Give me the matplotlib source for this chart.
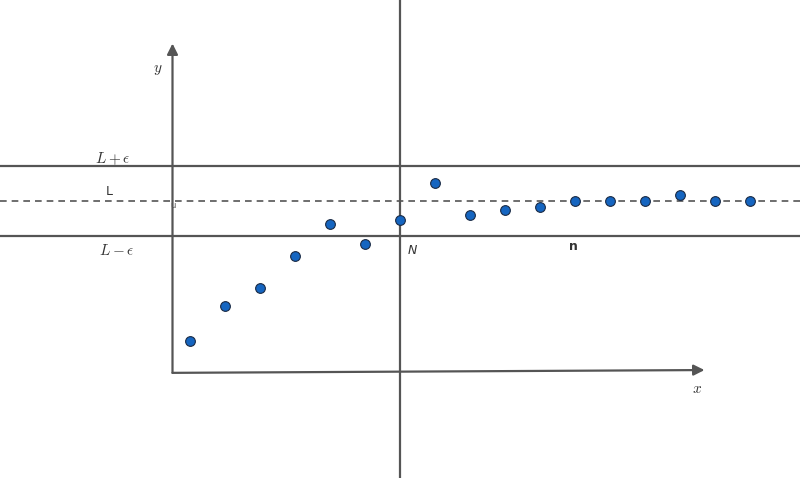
import matplotlib
matplotlib.use("Agg")
import matplotlib.pyplot as plt

plt.rcParams['mathtext.fontset'] = 'cm'

# sequence terms a_n, measured relative to the limit L (units of epsilon)
n_vals = list(range(1, 18))
a_vals = [-4.0, -3.0, -2.49, -1.57, -0.66, -1.23, -0.54, 0.51, -0.40,
          -0.26, -0.17, 0.0, 0.0, 0.0, 0.17, 0.0, 0.0]
L = 0.0
eps = 1.0
N = 7
n_mark = 12

# axis frame (same units)
x0, y0 = 0.5, -4.91
x_end, y_end = 15.7, 4.5

line_col = '#555555'

fig = plt.figure(figsize=(8, 4.78), dpi=100)
ax = fig.add_axes([0, 0, 1, 1])
ax.set_xlim(-155 / 35, (800 - 155) / 35)
ax.set_ylim((201 - 478) / 35, 201 / 35)
ax.axis('off')

# band lines
ax.axhline(L + eps, color=line_col, lw=1.6)
ax.axhline(L - eps, color=line_col, lw=1.6)
ax.axhline(L, color=line_col, lw=1.2, ls=(0, (4, 3)))
ax.axvline(N, color=line_col, lw=1.6)

# axes with arrows
ax.annotate('', xy=(x0, y_end), xytext=(x0, y0),
            arrowprops=dict(arrowstyle='-|>', color=line_col, lw=1.6,
                            mutation_scale=16, shrinkA=0, shrinkB=0))
ax.annotate('', xy=(x_end, y0 + 0.08), xytext=(x0, y0),
            arrowprops=dict(arrowstyle='-|>', color=line_col, lw=1.6,
                            mutation_scale=16, shrinkA=0, shrinkB=0))

# terms
ax.plot(n_vals, a_vals, 'o', color='#1565c0', mec='#1a2a44', mew=0.8,
        ms=7, zorder=5)

# labels
ax.text(0.08, 3.75, '$y$', fontsize=11, ha='center', va='center', color='#333333')
ax.text(15.5, -5.35, '$x$', fontsize=11, ha='center', va='center', color='#333333')
ax.text(-1.2, L + eps + 0.22, r'$L+\epsilon$', fontsize=11, ha='center', va='center', color='#333333')
ax.text(-1.3, L + 0.28, 'L', fontsize=9, ha='center', va='center', color='#333333')
ax.text(-1.1, L - eps - 0.42, r'$L-\epsilon$', fontsize=11, ha='center', va='center', color='#333333')
ax.text(N + 0.35, L - eps - 0.42, 'N', fontsize=9, style='italic', ha='center', va='center', color='#333333')
ax.text(n_mark - 0.05, L - eps - 0.29, 'n', fontsize=9, fontweight='bold', ha='center', va='center', color='#333333')
ax.text(x0, L - 0.12, 'u', fontsize=6, ha='center', va='center', color='#555555')

fig.savefig('out.png', dpi=100)
